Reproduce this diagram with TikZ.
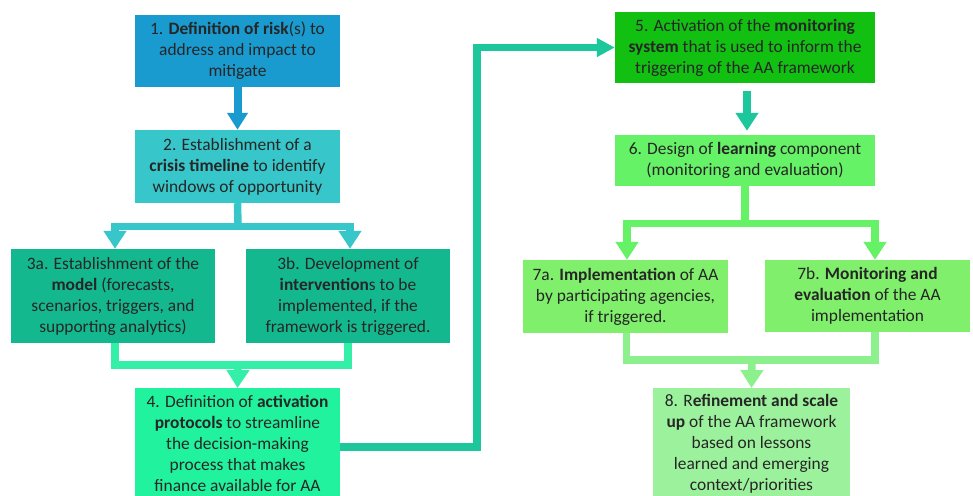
\documentclass[tikz,border=0pt]{standalone}
\usepackage{fontspec}
\setmainfont{Carlito}
\usetikzlibrary{arrows.meta}

\definecolor{riskblue}{HTML}{1A9BD0}
\definecolor{timecyan}{HTML}{37C6CA}
\definecolor{modelteal}{HTML}{14B88F}
\definecolor{protolink}{HTML}{34EFA7}
\definecolor{protomint}{HTML}{20F29E}
\definecolor{monlink}{HTML}{1CC79B}
\definecolor{mongreen}{HTML}{12C012}
\definecolor{learngreen}{HTML}{66F266}
\definecolor{implgreen}{HTML}{80F06C}
\definecolor{refinelink}{HTML}{8CF08C}
\definecolor{refinegreen}{HTML}{9CF29C}

\begin{document}
\begin{tikzpicture}[x=1pt,y=-1pt,
  stage/.style={fill=#1, inner sep=0pt, align=center, text=black!85,
    font=\fontsize{17.4}{21}\selectfont},
  link/.style={draw=#1, line width=7.5pt},
  tip/.style={-{Triangle[width=22pt,length=18pt]}}]
\clip (0,0) rectangle (973,495);

% left column
\node[stage=riskblue, minimum width=205pt, minimum height=72pt] (s1) at (237.5,51)
  {1. \textbf{Definition of risk}(s) to\\address and impact to\\mitigate};
\node[stage=timecyan, minimum width=205pt, minimum height=73pt] (s2) at (237.5,166.5)
  {2. Establishment of a\\\textbf{crisis timeline} to identify\\windows of opportunity};
\node[stage=modelteal, minimum width=204pt, minimum height=94pt] (s3a) at (113,296)
  {3a. Establishment of the\\\textbf{model} (forecasts,\\scenarios, triggers, and\\supporting analytics)};
\node[stage=modelteal, minimum width=204pt, minimum height=94pt] (s3b) at (348,296)
  {3b. Development of\\\textbf{intervention}s to be\\implemented, if the\\framework is triggered.};
\node[stage=protomint, minimum width=205pt, minimum height=110pt, anchor=north] (s4) at (237.5,388)
  {4. Definition of \textbf{activation}\\\textbf{protocols} to streamline\\the decision-making\\process that makes\\finance available for AA};

% right column
\node[stage=mongreen, minimum width=260pt, minimum height=71pt] (s5) at (745,47.5)
  {5. Activation of the \textbf{monitoring}\\\textbf{system} that is used to inform the\\triggering of the AA framework};
\node[stage=learngreen, minimum width=260pt, minimum height=51pt] (s6) at (745,160.5)
  {6. Design of \textbf{learning} component\\(monitoring and evaluation)};
\node[stage=implgreen, minimum width=205pt, minimum height=73pt] (s7a) at (625.5,296.5)
  {7a. \textbf{Implementation} of AA\\by participating agencies,\\if triggered.};
\node[stage=implgreen, minimum width=205pt, minimum height=72pt] (s7b) at (867.5,296)
  {7b. \textbf{Monitoring and}\\\textbf{evaluation} of the AA\\implementation};
\node[stage=refinegreen, minimum width=197pt, minimum height=112pt, anchor=north] (s8) at (751.5,388)
  {8. R\textbf{efinement and scale}\\\textbf{up} of the AA framework\\based on lessons\\learned and emerging\\context/priorities};

% junctions
\coordinate (j2) at (238,226.5);
\coordinate (j3) at (238,365);
\coordinate (bend) at (477,0);
\coordinate (j6) at (745,223.5);
\coordinate (j7) at (752,360);

% connectors
\draw[link=riskblue, line width=8pt, -{Triangle[width=20pt,length=17pt]}] (s1.south) -- (s2.north);
\draw[link=timecyan] (s2.south) -- (j2);
\draw[link=timecyan, tip] (j2) -| ([xshift=2pt]s3a.north);
\draw[link=timecyan, tip] (j2) -| ([xshift=2pt]s3b.north);
\draw[link=protolink] ([xshift=2pt]s3a.south) |- (j3) -| (s3b.south);
\draw[link=protolink, tip] (j3) -- (s4.north);
\draw[link=monlink, -{Triangle[width=18pt,length=18pt]}] (s4.east |- 0,447) -- (bend |- 0,447) |- (s5.west);
\draw[link=monlink, tip, shorten <=8pt, shorten >=4pt] ([xshift=2pt]s5.south) -- ([xshift=2pt]s6.north);
\draw[link=learngreen] (s6.south) -- (j6);
\draw[link=learngreen, tip] (j6) -| ([xshift=1.5pt]s7a.north);
\draw[link=learngreen, tip] (j6) -| ([xshift=7.5pt]s7b.north);
\draw[link=refinelink] ([xshift=1pt]s7a.south) |- (j7) -| ([xshift=7.5pt]s7b.south);
\draw[link=refinelink, tip] (j7) -- (s8.north);
\end{tikzpicture}
\end{document}
